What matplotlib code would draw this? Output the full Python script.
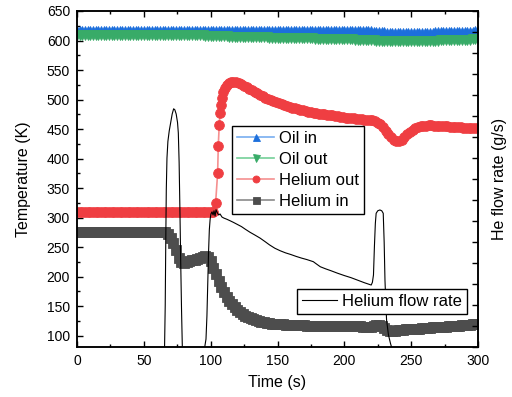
import numpy as np
import matplotlib.pyplot as plt
from matplotlib.ticker import MultipleLocator

plt.rcParams['font.family'] = ['Liberation Sans', 'DejaVu Sans']

# probe sample times (s), 2 s logging
time_s = np.arange(0, 301, 2)

# oil temperatures (K)
oil_in = ([616.0] * 91 + [615.5] * 20 +
          [615.0, 614.5, 614.5, 614.0, 614.0, 613.5, 613.5, 613.0, 613.0, 613.0,
           613.0, 612.5, 612.5, 612.5, 612.5, 612.5, 612.5, 613.0, 613.0, 613.0,
           613.5, 613.5, 613.5, 614.0, 614.0,
           614.0, 614.0, 614.5, 614.5, 614.5, 614.5, 615.0, 615.0, 615.0, 615.0,
           615.0, 615.0, 615.0, 615.5, 615.5])

oil_out = ([609.0] * 46 +
           [608.8, 608.6, 608.4, 608.2, 608.0, 607.8, 607.6, 607.4, 607.2, 607.0,
            606.8, 606.6, 606.5, 606.4, 606.3, 606.2, 606.1, 606.0, 605.9, 605.8,
            605.7, 605.6, 605.5, 605.4, 605.3, 605.2, 605.1, 605.0, 604.9, 604.8,
            604.7, 604.6, 604.5, 604.4, 604.3, 604.2, 604.1, 604.0, 603.9, 603.8,
            603.7, 603.6, 603.5, 603.4, 603.3, 603.2, 603.1, 603.0, 602.9, 602.8,
            602.7, 602.6, 602.5, 602.4, 602.3,
            602.2, 602.0, 601.8, 601.6, 601.4, 601.2, 601.0, 600.8, 600.6, 600.4,
            600.2, 600.0, 599.8, 599.6, 599.4, 599.2, 599.0, 598.9, 598.8, 598.7,
            598.6, 598.6, 598.5, 598.5, 598.5, 598.5, 598.6,
            598.7, 598.8, 599.0, 599.2, 599.4, 599.6, 599.8, 600.0, 600.2, 600.4,
            600.6, 600.8, 601.0, 601.1, 601.2, 601.3, 601.4, 601.5, 601.6, 601.7,
            601.8, 601.9, 602.0])

# helium inlet temperature (K)
helium_in = ([275.0] * 34 +
             [273, 266, 257, 245, 232, 224, 223, 225, 226.5, 228,
              229, 230, 231.5, 233, 234.5, 233,
              226, 215, 204, 193, 183, 174, 166, 159, 153, 148,
              143.5, 140, 137, 134, 131.5, 129.5, 128, 126.5, 125, 124,
              123, 122, 121, 120.5, 120,
              119.5, 119, 119, 118.5, 118.5, 118, 118, 118, 117.5, 117.5,
              117.5, 117, 117, 117, 117, 116.5, 116.5, 116.5, 116.5, 116.5,
              116, 116, 116, 116, 116, 116, 116, 116, 116, 116,
              116, 116, 115.5, 115.5, 115.5, 115.5,
              116.5, 117.5, 118, 117, 113, 109.5, 108, 108, 108.5, 109,
              109.5, 110, 110.5, 110.5, 111, 111.5, 112, 112, 112.5, 113,
              113.5, 113.5, 114, 114.5, 114.5, 115, 115.5, 115.5, 116, 116.5,
              116.5, 117, 117, 117.5, 118, 118, 118.5, 119, 119.5, 120])

# helium outlet temperature (K), denser logging around the heat-up
helium_out_t = np.concatenate([
    np.arange(0, 103, 2),
    [103.7, 105.2, 105.7, 106.4, 107.0, 107.7, 108.5, 109.4, 110.5, 112.0,
     113.5, 115.0, 117.0, 119.0],
    np.arange(121, 300, 2)])
helium_out = ([310.0] * 52 +
              [325, 375, 422, 457, 477, 491, 502, 513, 519, 525,
               528, 530, 530.5, 529,
               527.5, 525.5, 523, 520.5, 518, 515.5, 513, 510.5, 508, 505.5,
               503, 501, 499, 497, 495.5, 494, 492, 490.5, 489, 487.5,
               486, 485, 483.5, 482.5, 481.5, 480.5, 479.5, 478.5, 477.5, 477,
               476, 475.5, 475, 474, 473.5, 473, 472, 471.5, 471, 470,
               469, 468.5, 468, 468, 467.5, 467, 466.5, 466, 466, 465.5,
               465, 463.5, 461, 458, 453, 447, 441, 436, 432, 429.5,
               429, 432, 437, 441, 445, 448, 451, 453, 454.5, 455.5,
               456, 456.5, 456.5, 456, 455.5, 455.5, 455, 455, 454.5, 454,
               454, 453.5, 453, 453, 452.5, 452.5, 452, 452, 451.5, 451.5])

# helium mass flow (g/s)
flow_t = [0, 65.5, 66.0, 66.4, 66.8, 67.3, 68.0, 69.0, 70.1, 71.2,
          72.3, 73.2, 74.2, 75.2, 75.8, 76.4, 77.0, 77.6, 78.2, 78.8,
          95.5, 96.5, 97.2, 97.8, 98.4, 99.0, 99.6, 100.2, 101.0, 101.8,
          102.5, 103.3, 104.0, 105.0, 106.0, 107.0, 108.5, 110.0, 112.0, 114.4,
          117.0, 120.0, 123.0, 126.0, 129.4, 133.0, 137.0, 141.0, 144.0, 148.0,
          152.0, 156.0, 160.0, 164.0, 168.0, 172.0, 176.8, 178.5, 182.0, 186.0,
          190.0, 195.0, 200.0, 205.0, 210.0, 215.0, 220.1, 221.0, 221.8, 222.5,
          223.2, 223.8, 225.0, 226.6, 228.0, 229.1, 229.8, 230.4, 231.0, 231.6,
          233.0, 234.5, 235.4, 300]
flow_rate = [0, 0, 2.0, 5.0, 7.5, 9.0, 9.8, 10.3, 10.7, 11.1,
             11.35, 11.3, 11.1, 10.7, 10.2, 8.8, 6.5, 4.0, 1.8, 0,
             0, 0.4, 1.5, 3.0, 4.5, 5.6, 6.1, 6.35, 6.45, 6.3,
             6.5, 6.25, 6.55, 6.4, 6.3, 6.35, 6.2, 6.15, 6.1, 6.03,
             5.95, 5.85, 5.75, 5.62, 5.48, 5.35, 5.2, 5.02, 4.88, 4.72,
             4.6, 4.5, 4.42, 4.33, 4.25, 4.18, 4.08, 4.0, 3.84, 3.74,
             3.65, 3.53, 3.42, 3.32, 3.2, 3.08, 2.97, 3.1, 3.45, 4.8,
             5.9, 6.38, 6.5, 6.54, 6.5, 6.38, 5.0, 3.2, 2.2, 1.3,
             0.6, 0.2, 0, 0]

fig = plt.figure(figsize=(5.12, 3.97), dpi=100)
ax = fig.add_axes([0.1504, 0.1247, 0.7832, 0.8476])
ax2 = ax.twinx()

# (line colour, marker colour)
blue = ('#78aef0', '#1c6fdc')
green = ('#74cf98', '#38ab68')
red = ('#f59090', '#ef3e42')
grey = ('#8a8a8a', '#4d4d4d')

series = [
    (time_s, oil_in, 'Oil in', '^', blue),
    (time_s, oil_out, 'Oil out', 'v', green),
    (helium_out_t, helium_out, 'Helium out', 'o', red),
    (time_s, helium_in, 'Helium in', 's', grey),
]
handles = []
for t, y, name, mk, (lc, mc) in series:
    h, = ax.plot(t, y, '-', color=lc, lw=1.2, marker=mk, ms=7,
                 mfc=mc, mec=mc, mew=0.6, label=name)
    handles.append(h)

flow_line, = ax2.plot(flow_t, flow_rate, color='black', lw=0.8,
                      label='Helium flow rate')

ax.set_xlim(0, 300)
ax.set_ylim(80, 650)
ax.xaxis.set_major_locator(MultipleLocator(50))
ax.xaxis.set_minor_locator(MultipleLocator(25))
ax.yaxis.set_major_locator(MultipleLocator(50))
ax.yaxis.set_minor_locator(MultipleLocator(25))
ax.tick_params(which='both', direction='in', top=True, right=False,
               labelsize=10, width=1)
ax.tick_params(which='major', length=4, pad=5)
ax.tick_params(which='minor', length=2)

ax2.set_ylim(0, 16)
ax2.yaxis.set_major_locator(MultipleLocator(1))
ax2.tick_params(axis='y', direction='in', length=4, width=1, labelright=False)

for a in (ax, ax2):
    for s in a.spines.values():
        s.set_linewidth(1.1)

ax.set_xlabel('Time (s)', fontsize=11.5, labelpad=5)
ax.set_ylabel('Temperature (K)', fontsize=11.5, labelpad=11)
ax2.set_ylabel('He flow rate (g/s)', fontsize=11.5, labelpad=10)

leg_kw = dict(fontsize=12, frameon=True, fancybox=False, framealpha=1,
              edgecolor='black', borderaxespad=0, loc='upper left',
              handletextpad=0.3, borderpad=0.3)
leg1 = ax2.legend(handles=handles, bbox_to_anchor=(0.387, 0.658),
                  labelspacing=0.36, handlelength=2.2, markerscale=0.72, **leg_kw)
leg1.get_frame().set_linewidth(1.0)
ax2.add_artist(leg1)
leg2 = ax2.legend(handles=[flow_line], bbox_to_anchor=(0.549, 0.173),
                  handlelength=2.1, **leg_kw)
leg2.get_frame().set_linewidth(1.0)

fig.savefig('out.png', dpi=100)
